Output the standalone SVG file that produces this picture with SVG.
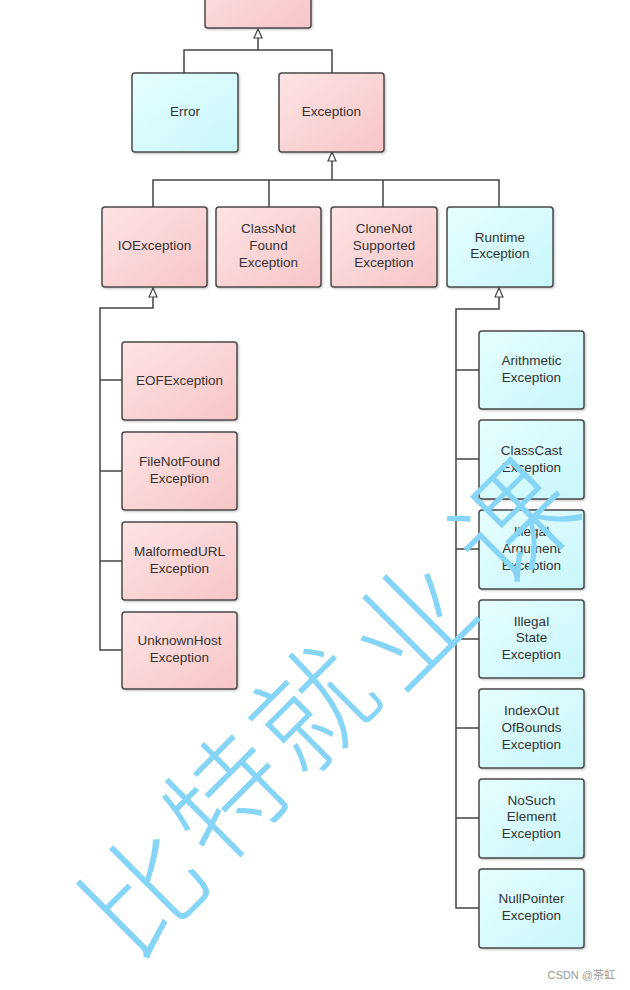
<svg xmlns="http://www.w3.org/2000/svg" width="630" height="990" viewBox="0 0 630 990">
<defs>
<linearGradient id="pink" x1="0" y1="0" x2="1" y2="1"><stop offset="0" stop-color="#fde4e5"/><stop offset="1" stop-color="#f8c5c7"/></linearGradient>
<linearGradient id="cyan" x1="0" y1="0" x2="1" y2="1"><stop offset="0" stop-color="#e6feff"/><stop offset="1" stop-color="#c8f6fa"/></linearGradient>
<filter id="sh" x="-10%" y="-10%" width="130%" height="130%"><feDropShadow dx="1" dy="1" stdDeviation="1" flood-color="#000" flood-opacity="0.25"/></filter>
<style>
.box{stroke:#4a4a4a;stroke-width:1.5;filter:url(#sh)}
.p{fill:url(#pink)}
.c{fill:url(#cyan)}
.t{font-family:"Liberation Sans",Arial,sans-serif;font-size:13.5px;fill:#333;text-anchor:middle}
.ln{fill:none;stroke:#444;stroke-width:1.5}
.ar{fill:#fff;stroke:#444;stroke-width:1.2}
.wm{font-family:"Noto Sans CJK SC",sans-serif;font-weight:300;font-size:118px;fill:#86d5f7;text-anchor:middle}
</style>
</defs>
<g id="connectors">
<path class="ln" d="M258,32 V50 M184,73 V50 H332 V73"/>
<path class="ar" d="M258,29 L262,38 L254,38 Z"/>
<path class="ln" d="M332,155 V180 M153,207 V180 H499 V207 M269,180 V207 M383,180 V207"/>
<path class="ar" d="M332,152 L336,161 L328,161 Z"/>
<path class="ln" d="M153,292 V308 H100 V650 H122 M100,380 H122 M100,471 H122 M100,561 H122"/>
<path class="ar" d="M153,288 L157,297 L149,297 Z"/>
<path class="ln" d="M499,292 V309 H456 V908 H479 M456,370 H479 M456,459 H479 M456,549 H479 M456,639 H479 M456,728 H479 M456,818 H479"/>
<path class="ar" d="M499,288 L503,297 L495,297 Z"/>
</g>
<g id="throwable"><rect class="box p" x="205" y="-50" width="106" height="78" rx="3"/></g>
<g id="error"><rect class="box c" x="132" y="73" width="106" height="79" rx="3"/><text class="t" x="185" y="116">Error</text></g>
<g id="exception"><rect class="box p" x="279" y="73" width="105" height="79" rx="3"/><text class="t" x="331.5" y="116">Exception</text></g>
<g id="ioexception"><rect class="box p" x="102" y="207" width="105" height="80" rx="3"/><text class="t" x="154.5" y="250">IOException</text></g>
<g id="classnotfound"><rect class="box p" x="216" y="207" width="105" height="80" rx="3"/><text class="t" x="268.5" y="233">ClassNot</text><text class="t" x="268.5" y="250">Found</text><text class="t" x="268.5" y="267">Exception</text></g>
<g id="clonenotsupported"><rect class="box p" x="331" y="207" width="106" height="80" rx="3"/><text class="t" x="384" y="233">CloneNot</text><text class="t" x="384" y="250">Supported</text><text class="t" x="384" y="267">Exception</text></g>
<g id="runtime"><rect class="box c" x="447" y="207" width="106" height="80" rx="3"/><text class="t" x="500" y="242">Runtime</text><text class="t" x="500" y="258">Exception</text></g>
<g id="eof"><rect class="box p" x="122" y="342" width="115" height="78" rx="3"/><text class="t" x="179.5" y="385">EOFException</text></g>
<g id="filenotfound"><rect class="box p" x="122" y="432" width="115" height="78" rx="3"/><text class="t" x="179.5" y="466">FileNotFound</text><text class="t" x="179.5" y="483">Exception</text></g>
<g id="malformedurl"><rect class="box p" x="122" y="522" width="115" height="78" rx="3"/><text class="t" x="179.5" y="556">MalformedURL</text><text class="t" x="179.5" y="573">Exception</text></g>
<g id="unknownhost"><rect class="box p" x="122" y="612" width="115" height="77" rx="3"/><text class="t" x="179.5" y="645">UnknownHost</text><text class="t" x="179.5" y="662">Exception</text></g>
<g id="arithmetic"><rect class="box c" x="479" y="331" width="105" height="78" rx="3"/><text class="t" x="531.5" y="365">Arithmetic</text><text class="t" x="531.5" y="382">Exception</text></g>
<g id="classcast"><rect class="box c" x="479" y="420" width="105" height="79" rx="3"/><text class="t" x="531.5" y="455">ClassCast</text><text class="t" x="531.5" y="472">Exception</text></g>
<g id="illegalargument"><rect class="box c" x="479" y="510" width="105" height="79" rx="3"/><text class="t" x="531.5" y="536">Illegal</text><text class="t" x="531.5" y="553">Argument</text><text class="t" x="531.5" y="570">Exception</text></g>
<g id="illegalstate"><rect class="box c" x="479" y="600" width="105" height="78" rx="3"/><text class="t" x="531.5" y="626">Illegal</text><text class="t" x="531.5" y="642">State</text><text class="t" x="531.5" y="659">Exception</text></g>
<g id="indexoutofbounds"><rect class="box c" x="479" y="689" width="105" height="79" rx="3"/><text class="t" x="531.5" y="715">IndexOut</text><text class="t" x="531.5" y="732">OfBounds</text><text class="t" x="531.5" y="749">Exception</text></g>
<g id="nosuchelement"><rect class="box c" x="479" y="779" width="105" height="79" rx="3"/><text class="t" x="531.5" y="805">NoSuch</text><text class="t" x="531.5" y="821">Element</text><text class="t" x="531.5" y="838">Exception</text></g>
<g id="nullpointer"><rect class="box c" x="479" y="869" width="105" height="79" rx="3"/><text class="t" x="531.5" y="903">NullPointer</text><text class="t" x="531.5" y="920">Exception</text></g>
<g id="watermark">
<text class="wm" transform="translate(145,893) rotate(-45)" y="42">比</text>
<text class="wm" transform="translate(228,798) rotate(-45)" y="42">特</text>
<text class="wm" transform="translate(314,710) rotate(-45)" y="42">就</text>
<text class="wm" transform="translate(413,625) rotate(-45)" y="42">业</text>
<text class="wm" transform="translate(515,524) rotate(-45)" y="42">课</text>
</g>
<text x="615" y="979" font-family="'Liberation Sans','Noto Sans CJK SC',sans-serif" font-size="11" fill="#999" text-anchor="end">CSDN @茶虹</text>
</svg>
